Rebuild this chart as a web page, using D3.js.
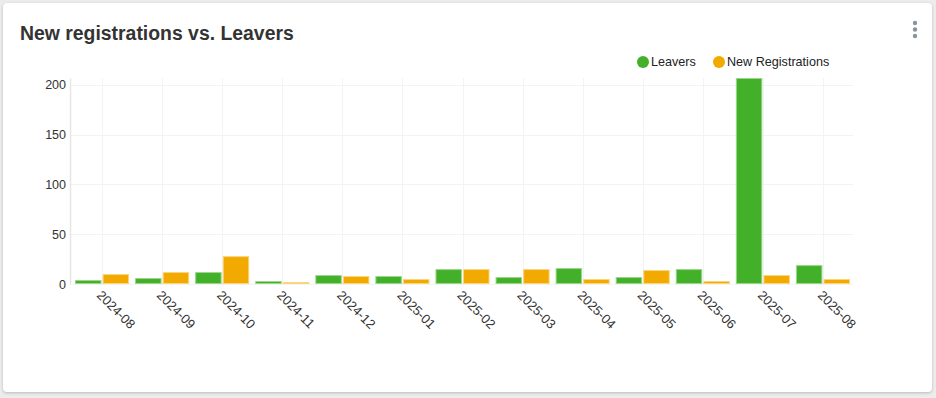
<!DOCTYPE html>
<html>
<head>
<meta charset="utf-8">
<script src="https://cdn.jsdelivr.net/npm/d3@7"></script>
<style>
  html, body { margin: 0; padding: 0; background: #ececec; }
  body { width: 936px; height: 398px; overflow: hidden; font-family: "Liberation Sans", Arial, sans-serif; }
  .card {
    position: absolute; left: 3px; top: 3px; width: 929px; height: 389px;
    background: #fff; border-radius: 4px;
    box-shadow: 0 1px 3px rgba(0,0,0,0.22);
  }
</style>
</head>
<body>
<div class="card"></div>
<script>
const months = ["2024-08", "2024-09", "2024-10", "2024-11", "2024-12", "2025-01", "2025-02",
                "2025-03", "2025-04", "2025-05", "2025-06", "2025-07", "2025-08"];
const leavers = [4, 6, 12, 3, 9, 8, 15, 7, 16, 7, 15, 207, 19];
const newRegistrations = [10, 12, 28, 2, 8, 5, 15, 15, 5, 14, 3, 9, 5];
const seriesNames = ["Leavers", "New Registrations"];
const yTicks = [0, 50, 100, 150, 200];

const colors = {
    "Leavers": "#43b02a",
    "New Registrations": "#f2a900"
};
const borders = {
    "Leavers": "#9bd68c",
    "New Registrations": "#fad57a"
};

const font = "'Liberation Sans', Arial, sans-serif";
const width = 936, height = 398;
const margin = {top: 78, right: 84, bottom: 114, left: 70};

const svg = d3.select("body")
    .append("svg")
    .attr("width", width)
    .attr("height", height)
    .style("position", "absolute")
    .style("left", 0)
    .style("top", 0)
    .attr("font-family", font);

// title
svg.append("text")
    .attr("x", 20)
    .attr("y", 40)
    .attr("font-size", 19.4)
    .attr("font-weight", 700)
    .attr("fill", "#333")
    .text("New registrations vs. Leavers");

// kebab menu
svg.selectAll("circle.dot")
    .data([0, 1, 2])
    .join("circle")
    .attr("class", "dot")
    .attr("cx", 915)
    .attr("cy", d => 23 + d * 6.5)
    .attr("r", 2.2)
    .attr("fill", "#8a949c");

const data = months.map((m, i) => ({
    month: m,
    values: [
        {key: "Leavers", value: leavers[i]},
        {key: "New Registrations", value: newRegistrations[i]}
    ]
}));

const x = d3.scaleBand()
    .domain(months)
    .range([margin.left + 2, width - margin.right + 1])
    .paddingInner(0)
    .paddingOuter(0);

const x1 = d3.scaleBand()
    .domain(seriesNames)
    .range([3, x.bandwidth() - 3])
    .paddingInner(0.04);

const y = d3.scaleLinear()
    .domain([0, d3.max(leavers.concat(newRegistrations))])
    .range([height - margin.bottom, margin.top]);

// grid
const grid = svg.append("g");
grid.selectAll("line.h")
    .data(yTicks)
    .join("line")
    .attr("x1", margin.left)
    .attr("x2", width - margin.right + 1)
    .attr("y1", d => Math.round(y(d)) + 0.5)
    .attr("y2", d => Math.round(y(d)) + 0.5)
    .attr("stroke", "#f3f3f3");

grid.selectAll("line.v")
    .data(months)
    .join("line")
    .attr("x1", d => Math.round(x(d) + x.bandwidth() / 2) + 0.5)
    .attr("x2", d => Math.round(x(d) + x.bandwidth() / 2) + 0.5)
    .attr("y1", margin.top)
    .attr("y2", height - margin.bottom)
    .attr("stroke", "#f3f3f3");

// y axis
const yAxis = svg.append("g")
    .attr("transform", `translate(${margin.left},0)`)
    .call(d3.axisLeft(y).tickValues(yTicks).tickSize(0).tickPadding(4));
yAxis.select(".domain").attr("stroke", "#e6e6e6").attr("stroke-width", 1.5);
yAxis.selectAll("text")
    .attr("font-size", 12.5)
    .attr("fill", "#333")
    .attr("font-family", font);

// bars
const groups = svg.append("g")
    .selectAll("g")
    .data(data)
    .join("g")
    .attr("transform", d => `translate(${x(d.month)},0)`);

groups.selectAll("rect")
    .data(d => d.values)
    .join("rect")
    .attr("x", d => x1(d.key) + 0.5)
    .attr("width", x1.bandwidth() - 1)
    .attr("y", d => y(d.value) + 0.5)
    .attr("height", d => Math.max(0, y(0) - y(d.value) - 1))
    .attr("fill", d => colors[d.key])
    .attr("stroke", d => borders[d.key])
    .attr("stroke-width", 1);

// x axis
const xAxis = svg.append("g")
    .attr("transform", `translate(0,${height - margin.bottom})`)
    .call(d3.axisBottom(x).tickSize(0));
xAxis.select(".domain").remove();
xAxis.selectAll("text")
    .attr("font-size", 13)
    .attr("fill", "#333")
    .attr("font-family", font)
    .attr("text-anchor", "start")
    .attr("y", 0)
    .attr("dy", 0)
    .attr("transform", "translate(-6,12) rotate(45)");

// legend
const legend = svg.append("g")
    .attr("font-size", 12.6)
    .attr("fill", "#333");
const legendX = [643, 719];
const legendItems = legend.selectAll("g")
    .data(seriesNames)
    .join("g")
    .attr("transform", (d, i) => `translate(${legendX[i]},62)`);
legendItems.append("circle")
    .attr("r", 6)
    .attr("fill", d => colors[d]);
legendItems.append("text")
    .attr("x", 8)
    .attr("dy", "0.35em")
    .attr("fill", "#222")
    .text(d => d);
</script>
</body>
</html>
